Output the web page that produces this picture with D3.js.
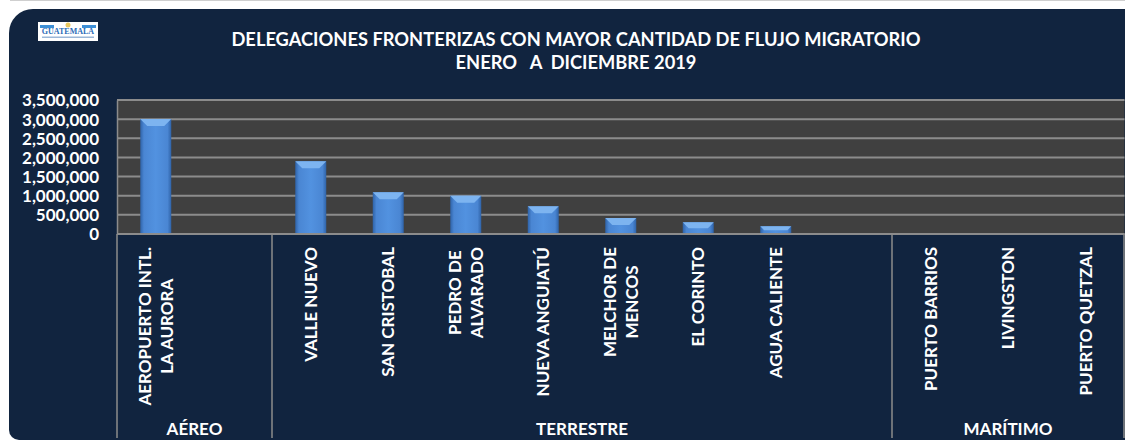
<!DOCTYPE html>
<html lang="es">
<head>
    <title>Flujo migratorio 2019</title>
    <meta charset="utf-8"/>
    <script src="https://d3js.org/d3.v7.min.js"></script>
    <style>
        body { margin: 0; background: #ffffff; }
        svg text { font-family: Lato, "Open Sans", sans-serif; font-weight: bold; fill: #ffffff; }
    </style>
</head>
<body>
<svg width="1125" height="443"></svg>

<script type="text/javascript">

    // datos
    const categorias = [
        ["AEROPUERTO INTL.", "LA AURORA"], [],
        ["VALLE NUEVO"], ["SAN CRISTOBAL"], ["PEDRO DE", "ALVARADO"], ["NUEVA ANGUIATÚ"],
        ["MELCHOR DE", "MENCOS"], ["EL CORINTO"], ["AGUA CALIENTE"], [],
        ["PUERTO BARRIOS"], ["LIVINGSTON"], ["PUERTO QUETZAL"]
    ];
    const valores = [3005000, null, 1900000, 1090000, 1000000, 722000, 418000, 306000, 201000, null, 3000, 1000, 2000];
    const grupos = ["AÉREO", "TERRESTRE", "MARÍTIMO"];
    const tamGrupos = [2, 8, 3];
    const ticks = [0, 500000, 1000000, 1500000, 2000000, 2500000, 3000000, 3500000];
    const titulo = ["DELEGACIONES FRONTERIZAS CON MAYOR CANTIDAD DE FLUJO MIGRATORIO", "ENERO   A  DICIEMBRE 2019"];

    // valores de layout
    const pLeft = 117, pRight = 1124.5, pTop = 100, pBottom = 234;
    const svg = d3.select("svg");

    // fondo azul con esquinas redondeadas a la izquierda
    svg.append("line").attr("x1", 10).attr("x2", 1125).attr("y1", 0.5).attr("y2", 0.5)
        .attr("stroke", "#cfcfcf");
    svg.append("path")
        .attr("d", "M9,33 A24,24 0 0 1 33,9 L1130,9 L1130,440 L19,440 A10,10 0 0 1 9,430 Z")
        .attr("fill", "#11243f");

    // logo (simplificado)
    let logo = svg.append("g").attr("transform", "translate(38,22)");
    logo.append("rect").attr("width", 60).attr("height", 19).attr("fill", "#ffffff");
    logo.append("rect").attr("x", 2).attr("y", 3).attr("width", 14).attr("height", 3).attr("fill", "#3d8fd6");
    logo.append("rect").attr("x", 44).attr("y", 3).attr("width", 14).attr("height", 3).attr("fill", "#3d8fd6");
    logo.append("circle").attr("cx", 30).attr("cy", 3).attr("r", 2.5).attr("fill", "#e8c860");
    logo.append("text").attr("x", 30).attr("y", 12).attr("text-anchor", "middle")
        .style("font-family", "'Liberation Serif', serif").style("font-size", "8px")
        .style("fill", "#2b6cb8").text("GUATEMALA");
    logo.append("rect").attr("x", 4).attr("y", 14.5).attr("width", 52).attr("height", 1.5).attr("fill", "#9bb7d8");

    // título
    svg.append("g").selectAll("text").data(titulo).join("text")
        .attr("x", 576).attr("y", (d, i) => 46 + i * 23)
        .attr("text-anchor", "middle")
        .style("font-size", "18.3px")
        .style("white-space", "pre")
        .text(d => d);

    // escalas
    let xScale = d3.scaleBand().domain(d3.range(categorias.length))
        .range([pLeft, pRight]).paddingInner(0.6).paddingOuter(0.3);
    let yScale = d3.scaleLinear().domain([0, 3500000]).range([pBottom, pTop]);

    // área del gráfico
    svg.append("rect").attr("x", pLeft).attr("y", pTop)
        .attr("width", pRight - pLeft).attr("height", pBottom - pTop).attr("fill", "#404040");

    // líneas de cuadrícula
    svg.append("g").selectAll("line").data(ticks).join("line")
        .attr("x1", pLeft).attr("x2", pRight)
        .attr("y1", d => yScale(d)).attr("y2", d => yScale(d))
        .attr("stroke", "#8c8c8c").attr("stroke-width", 2);

    // eje Y
    let yAxis = d3.axisLeft(yScale).tickValues(ticks).tickFormat(d3.format(",")).tickSize(0).tickPadding(18);
    let yPlot = svg.append("g").attr("transform", "translate(" + pLeft + ",0)").call(yAxis);
    yPlot.select(".domain").attr("stroke", "#8c8c8c").attr("stroke-width", 1.5);
    yPlot.selectAll("text").style("font-size", "17px").style("fill", "#ffffff")
        .style("font-family", "Lato, sans-serif").attr("dy", "0.35em");

    // degradado de barras
    let defs = svg.append("defs");
    let grad = defs.append("linearGradient").attr("id", "barGrad").attr("x1", 0).attr("x2", 1).attr("y1", 0).attr("y2", 0);
    grad.append("stop").attr("offset", "0%").attr("stop-color", "#2f63a8");
    grad.append("stop").attr("offset", "12%").attr("stop-color", "#4a86d3");
    grad.append("stop").attr("offset", "50%").attr("stop-color", "#5292e0");
    grad.append("stop").attr("offset", "88%").attr("stop-color", "#4a86d3");
    grad.append("stop").attr("offset", "100%").attr("stop-color", "#2f63a8");

    let barras = valores.map((v, i) => ({i: i, v: v})).filter(d => d.v !== null);
    let bw = xScale.bandwidth();

    let gBar = svg.append("g");
    gBar.selectAll("rect").data(barras).join("rect")
        .attr("x", d => xScale(d.i))
        .attr("y", d => yScale(d.v))
        .attr("width", bw)
        .attr("height", d => yScale(0) - yScale(d.v))
        .attr("fill", "url(#barGrad)");

    // bisel superior
    gBar.selectAll("polygon").data(barras).join("polygon")
        .attr("points", d => {
            let x0 = xScale(d.i), x1 = x0 + bw, y0 = yScale(d.v);
            let b = Math.min(7, (yScale(0) - y0) / 2);
            return [[x0, y0], [x1, y0], [x1 - b, y0 + b], [x0 + b, y0 + b]].join(" ");
        })
        .attr("fill", "#7db4f0");

    // eje X: línea base y separadores de grupo
    svg.append("line").attr("x1", pLeft).attr("x2", pRight)
        .attr("y1", pBottom).attr("y2", pBottom)
        .attr("stroke", "#8c8c8c").attr("stroke-width", 2);

    let cortes = [0];
    tamGrupos.forEach(n => cortes.push(cortes[cortes.length - 1] + n));
    let xCorte = k => k >= categorias.length ? pRight - 0.5 : xScale(k) - xScale.step() * xScale.paddingInner() / 2;

    svg.append("g").selectAll("line").data(cortes).join("line")
        .attr("x1", d => xCorte(d)).attr("x2", d => xCorte(d))
        .attr("y1", pBottom).attr("y2", 438)
        .attr("stroke", "#8c8c8c").attr("stroke-width", 1.5);

    // etiquetas de categoría (rotadas)
    let yLab = 247;
    let gLab = svg.append("g").selectAll("g").data(categorias).join("g")
        .attr("transform", (d, i) => "translate(" + (xScale(i) + bw / 2) + "," + yLab + ") rotate(-90)");
    gLab.each(function (lines) {
        let g = d3.select(this);
        let n = lines.length;
        let t = g.selectAll("text").data(lines).join("text")
            .attr("y", (d, j) => (j - (n - 1) / 2) * 21.6)
            .attr("dy", "0.35em")
            .style("font-size", "17px")
            .text(d => d);
        if (n > 1) {
            let maxW = d3.max(t.nodes(), nd => nd.getComputedTextLength());
            t.attr("text-anchor", "middle").attr("x", -maxW / 2);
        } else {
            t.attr("text-anchor", "end").attr("x", 0);
        }
    });

    // etiquetas de grupo
    svg.append("g").selectAll("text").data(grupos).join("text")
        .attr("x", (d, i) => (xCorte(cortes[i]) + xCorte(cortes[i + 1])) / 2)
        .attr("y", 435)
        .attr("text-anchor", "middle")
        .style("font-size", "17px")
        .text(d => d);

</script>
</body>
</html>
